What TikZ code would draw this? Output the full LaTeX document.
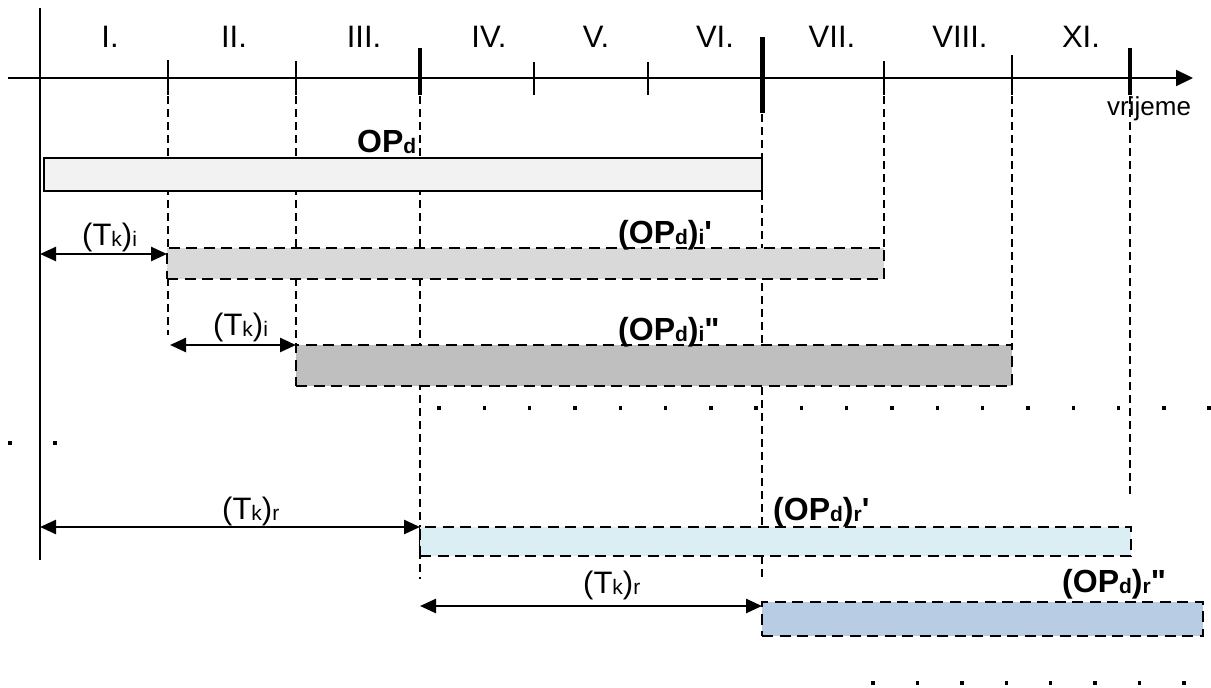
\documentclass[tikz,border=0pt]{standalone}
\usepackage{fontspec}
\setmainfont{Liberation Sans}
\usetikzlibrary{arrows.meta}
\definecolor{cOPd}{HTML}{F2F2F2}
\definecolor{cIa}{HTML}{D9D9D9}
\definecolor{cIb}{HTML}{BFBFBF}
\definecolor{cRa}{HTML}{DAEEF3}
\definecolor{cRb}{HTML}{B8CCE4}
\newcommand{\sbx}[1]{\raisebox{-1pt}{\fontsize{21}{21}\selectfont #1}}
\newcommand{\sbt}[1]{\raisebox{-1pt}{\fontsize{21}{21}\selectfont #1}}
\tikzset{
  axisline/.style={line width=2.2pt},
  tickthin/.style={line width=1.6pt},
  tickthick/.style={line width=3.8pt},
  guide/.style={line width=1.3pt, dash pattern=on 8pt off 5pt},
  solidbar/.style={draw, line width=2.2pt, fill=cOPd, inner sep=0pt, outer sep=0pt, anchor=north west},
  dashbar/.style={draw, line width=2.8pt, dash pattern=on 11pt off 6.5pt, inner sep=0pt, outer sep=0pt, anchor=north west},
  dimarr/.style={line width=2.5pt, {Triangle[length=16pt,width=14pt]}-{Triangle[length=16pt,width=14pt]}},
  numlbl/.style={font=\fontsize{31}{36}\selectfont, anchor=base, inner sep=0pt},
  tklbl/.style={font=\fontsize{31}{36}\selectfont, anchor=base west, inner sep=0pt},
  oplbl/.style={font=\fontsize{32}{38}\selectfont\bfseries, anchor=base west, inner sep=0pt},
  dotmark/.style={rectangle, fill=black, inner sep=0pt, minimum size=3.4pt}
}
\begin{document}
\begin{tikzpicture}[x=1pt,y=-1pt]
\useasboundingbox (0,0) rectangle (1211,688);
% axes
\coordinate (hS) at (8,78);
\coordinate (hE) at (1193,78);
\coordinate (vS) at (40,8);
\coordinate (vE) at (40,560);
\draw[axisline,-{Triangle[length=17pt,width=16pt]}] (hS) -- (hE);
\draw[axisline] (vS) -- (vE);
% ticks
\draw[tickthin] (168,60) -- (168,95);
\draw[tickthin] (296,61) -- (296,95);
\draw[tickthin] (534,62) -- (534,95);
\draw[tickthin] (648,62) -- (648,95);
\draw[tickthin] (884,61) -- (884,95);
\draw[tickthin] (1012,55) -- (1012,95);
\draw[tickthick] (420,48) -- (420,95);
\draw[line width=5pt] (762,37) -- (762,113);
\draw[tickthick] (1130,48) -- (1130,95);
% numerals
\node[numlbl] (n1) at (110,47) {I.};
\node[numlbl] (n2) at (234,47) {II.};
\node[numlbl] (n3) at (364,47) {III.};
\node[numlbl] (n4) at (489,47) {IV.};
\node[numlbl] (n5) at (596,47) {V.};
\node[numlbl] (n6) at (715,47) {VI.};
\node[numlbl] (n7) at (832,47) {VII.};
\node[numlbl] (n8) at (960,47) {VIII.};
\node[numlbl] (n9) at (1081,47) {XI.};
\node[font=\fontsize{26}{30}\selectfont, anchor=base west, inner sep=0pt] (vr) at (1107,115) {vrijeme};
% guide lines
\coordinate (g1) at (168,335);
\coordinate (g2) at (296,345);
\coordinate (g3) at (420,579);
\coordinate (g6) at (762,577);
\coordinate (g7) at (884,248);
\coordinate (g8) at (1012,345);
\coordinate (g9) at (1130,497);
\draw[guide] (168,96) -- (g1);
\draw[guide] (296,96) -- (g2);
\draw[guide] (420,96) -- (g3);
\draw[guide] (762,114) -- (g6);
\draw[guide] (884,96) -- (g7);
\draw[guide] (1012,96) -- (g8);
\draw[guide] (1130,96) -- (g9);
% bars
\node[solidbar, minimum width=718pt, minimum height=33pt] (opd) at (44,158) {};
\node[dashbar, fill=cIa, minimum width=717pt, minimum height=31pt] (bi1) at (167,248) {};
\node[dashbar, fill=cIb, minimum width=716pt, minimum height=41pt] (bi2) at (296,345) {};
\node[dashbar, fill=cRa, minimum width=711pt, minimum height=29pt] (br1) at (420,527) {};
\node[dashbar, fill=cRb, minimum width=441pt, minimum height=34pt] (br2) at (762,602) {};
% bar labels
\node[oplbl] (lopd) at (357,152) {OP\sbx{d}};
\node[oplbl] (lbi1) at (618,243) {(OP\sbx{d})\sbx{i}\textquotesingle};
\node[oplbl] (lbi2) at (618,340) {(OP\sbx{d})\sbx{i}\textquotedbl};
\node[oplbl] (lbr1) at (773,520) {(OP\sbx{d})\sbx{r}\textquotesingle};
\node[oplbl] (lbr2) at (1062,592) {(OP\sbx{d})\sbx{r}\textquotedbl};
% dimension arrows
\coordinate (a1) at (40,254);
\draw[dimarr] (a1) -- (a1 -| bi1.west);
\coordinate (a2) at (170,345);
\draw[dimarr] (a2) -- (bi2.north west);
\coordinate (a3) at (40,527);
\draw[dimarr] (a3) -- (br1.north west);
\coordinate (a4) at (420,606);
\draw[dimarr] (a4) -- (a4 -| br2.west);
\node[tklbl] (l1) at (82,245) {(T\sbt{k})\sbt{i}};
\node[tklbl] (l2) at (213,335) {(T\sbt{k})\sbt{i}};
\node[tklbl] (l3) at (222,519) {(T\sbt{k})\sbt{r}};
\node[tklbl] (l4) at (583,593) {(T\sbt{k})\sbt{r}};
% dots
\foreach \k in {0,...,17} \node[dotmark] (da\k) at ({439+45.3*\k},408) {};
\node[dotmark] (db0) at (10,443) {};
\node[dotmark] (db1) at (55,443) {};
\foreach \k in {0,...,7} \node[dotmark] (dc\k) at ({873+44.4*\k},683) {};
\end{tikzpicture}
\end{document}
